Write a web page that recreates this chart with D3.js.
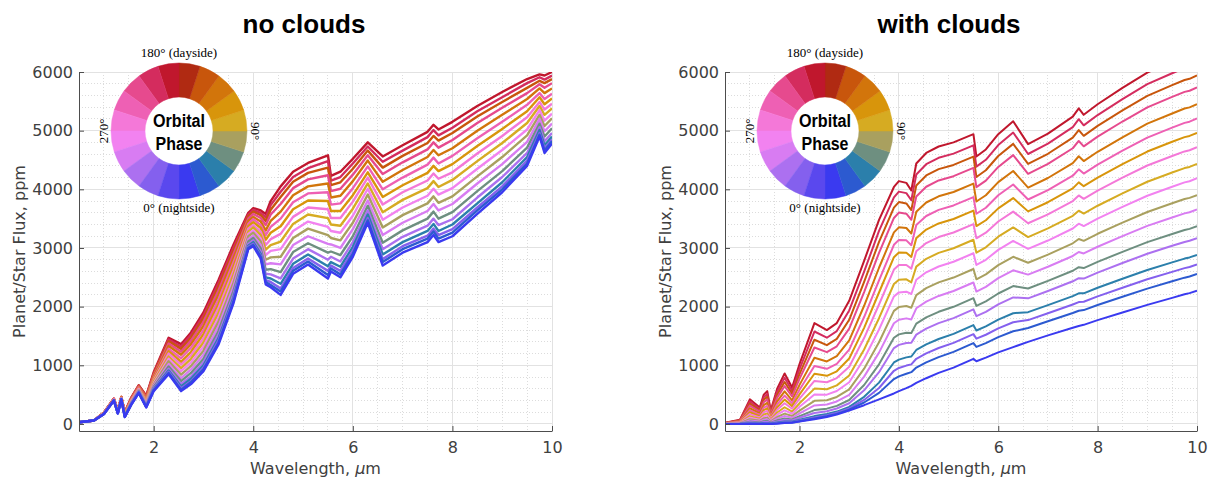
<!DOCTYPE html>
<html>
<head>
<meta charset="utf-8">
<title>Phase curves</title>
<style>
  body { margin: 0; background: #fff; }
  .axis text { fill: #404040; }
  .axis path, .axis line { stroke: #4d4d4d; }
</style>
</head>
<body>
<svg id="fig" width="1213" height="478"></svg>
<script src="https://d3js.org/d3.v7.min.js"></script>
<script>
"use strict";

// wavelength grid, micron
var wavelength = [0.5, 0.8, 1.0, 1.2, 1.28, 1.35, 1.42, 1.55, 1.7, 1.85,
  2.0, 2.3, 2.55, 2.75, 3.0, 3.3, 3.6, 3.9, 4.0, 4.15,
  4.25, 4.35, 4.55, 4.8, 5.1, 5.5, 5.56, 5.75, 6.0, 6.3,
  6.6, 7.0, 7.5, 7.62, 7.72, 8.0, 8.5, 9.0, 9.5, 9.75, 9.85, 10.0];

// orbital phase of each curve (deg), same column order as the flux rows
var phases = [0, 20, 340, 40, 320, 60, 300, 80, 280, 100, 260, 120, 240, 140, 220, 160, 200, 180];

// colour wheel, 20 segments of 18 deg starting at 0 (nightside)
var wheelColors = ["#3a3af0", "#2c5ad0", "#2b7fab", "#6e8f80", "#a9a05f",
  "#d6ab22", "#d8950b", "#d2750b", "#c8560c", "#b02a12",
  "#c0172d", "#d42c5e", "#e64a8e", "#ee60b4", "#f478d8",
  "#f282f0", "#d87cf2", "#ac70f0", "#8460ee", "#5a48ee"];

var xTicks = [2, 4, 6, 8, 10];
var yTicks = [0, 1000, 2000, 3000, 4000, 5000, 6000];

// planet/star flux (ppm), one row per wavelength, one column per phase
var noClouds = [
  [30,30,30,30,30,30,30,30,30,30,30,30,30,30,30,30,30,30],
  [60,60,60,60,60,60,60,60,60,60,60,60,60,60,60,60,60,60],
  [170,170,170,170,170,170,180,180,180,180,180,180,180,190,190,190,190,190],
  [400,400,400,400,400,410,410,410,410,410,420,420,420,420,430,430,430,430],
  [180,180,180,190,190,190,190,200,200,200,210,210,220,220,220,230,230,230],
  [420,420,420,420,430,430,430,430,440,440,440,450,450,450,450,460,460,460],
  [120,120,120,130,130,140,140,150,150,160,160,170,180,180,190,190,200,200],
  [330,330,340,340,350,360,360,370,380,390,400,410,410,420,430,440,440,450],
  [530,530,540,540,550,560,570,580,590,590,600,610,620,630,640,650,650,660],
  [280,290,290,300,310,320,340,350,360,380,390,410,420,430,450,460,470,480],
  [560,570,580,590,610,630,650,670,690,720,740,760,780,810,830,850,860,880],
  [850,870,890,910,940,980,1020,1070,1110,1150,1200,1240,1280,1330,1370,1410,1440,1470],
  [560,580,610,640,680,730,780,840,900,950,1010,1060,1120,1180,1230,1280,1320,1360],
  [680,710,730,770,810,870,930,990,1050,1110,1170,1230,1300,1360,1420,1470,1520,1560],
  [900,930,960,1000,1050,1110,1180,1250,1320,1390,1460,1530,1600,1670,1740,1800,1850,1900],
  [1350,1380,1420,1460,1520,1580,1660,1740,1810,1890,1970,2040,2120,2200,2270,2340,2400,2450],
  [2050,2080,2110,2150,2200,2260,2330,2400,2470,2540,2610,2680,2750,2820,2890,2950,3000,3050],
  [2980,3000,3020,3040,3070,3110,3150,3200,3240,3280,3330,3370,3410,3460,3500,3540,3570,3600],
  [3030,3050,3070,3100,3130,3170,3210,3260,3300,3350,3390,3440,3490,3530,3580,3620,3650,3680],
  [2820,2850,2870,2900,2940,2990,3050,3110,3160,3220,3280,3340,3390,3450,3510,3560,3600,3640],
  [2380,2420,2450,2500,2560,2630,2720,2800,2880,2970,3050,3140,3220,3300,3390,3460,3520,3580],
  [2330,2370,2420,2480,2550,2640,2740,2840,2950,3050,3150,3260,3360,3460,3570,3650,3730,3800],
  [2200,2260,2310,2390,2480,2590,2720,2850,2980,3110,3240,3370,3500,3620,3750,3870,3960,4050],
  [2560,2610,2660,2730,2820,2930,3050,3170,3290,3410,3530,3660,3780,3900,4020,4130,4210,4300],
  [2720,2770,2820,2890,2980,3080,3200,3330,3450,3570,3690,3810,3930,4050,4170,4280,4360,4450],
  [2480,2540,2610,2690,2800,2920,3070,3220,3360,3510,3660,3800,3950,4100,4240,4370,4480,4580],
  [2600,2650,2700,2760,2850,2940,3060,3170,3290,3400,3510,3630,3740,3860,3970,4070,4150,4230],
  [2500,2550,2610,2680,2770,2880,3000,3130,3260,3380,3510,3630,3760,3890,4010,4120,4210,4300],
  [2850,2900,2950,3020,3100,3200,3320,3430,3550,3670,3790,3900,4020,4140,4250,4350,4440,4520],
  [3430,3470,3510,3570,3640,3720,3810,3910,4010,4100,4200,4290,4390,4490,4580,4660,4730,4800],
  [2700,2760,2810,2890,2980,3090,3220,3350,3480,3610,3740,3870,4000,4130,4260,4370,4470,4560],
  [2920,2980,3030,3100,3190,3300,3430,3560,3690,3820,3950,4070,4200,4330,4460,4570,4660,4750],
  [3100,3160,3210,3290,3380,3500,3630,3760,3890,4020,4150,4280,4420,4550,4680,4790,4890,4980],
  [3220,3280,3330,3410,3500,3620,3750,3880,4010,4140,4270,4400,4540,4670,4800,4910,5010,5100],
  [3100,3160,3220,3290,3390,3500,3640,3770,3910,4040,4180,4310,4440,4580,4710,4830,4920,5020],
  [3200,3260,3320,3400,3490,3610,3750,3880,4020,4160,4290,4430,4570,4700,4840,4960,5050,5150],
  [3580,3640,3690,3760,3860,3970,4100,4220,4350,4480,4610,4740,4870,5000,5130,5240,5330,5420],
  [3950,4000,4050,4120,4210,4310,4430,4550,4670,4790,4910,5030,5150,5270,5390,5490,5570,5660],
  [4400,4440,4490,4550,4620,4710,4810,4920,5020,5130,5230,5330,5440,5540,5640,5730,5810,5880],
  [4900,4930,4960,5010,5060,5120,5200,5270,5350,5420,5490,5570,5640,5720,5790,5850,5910,5960],
  [4620,4660,4700,4750,4820,4900,4990,5080,5170,5270,5360,5450,5540,5640,5730,5810,5870,5940],
  [4780,4820,4850,4900,4960,5040,5120,5210,5290,5380,5460,5550,5630,5720,5810,5880,5940,6000]
];

var withClouds = [
  [0,0,0,1,1,2,3,4,5,6,8,9,11,13,15,17,18,20],
  [0,1,1,2,5,7,10,13,18,22,28,33,39,45,52,58,64,70],
  [0,3,8,14,28,40,60,81,108,134,168,199,233,268,313,347,383,420],
  [0,2,5,9,18,27,40,54,72,89,112,132,155,179,209,232,255,280],
  [0,4,10,17,33,48,72,96,129,160,200,237,277,320,373,414,456,500],
  [0,4,11,18,37,53,80,108,144,179,223,265,310,358,418,463,511,560],
  [0,2,4,8,15,22,33,44,59,73,92,109,127,147,172,190,210,230],
  [5,10,16,25,44,62,90,119,158,195,242,286,335,385,449,497,548,600],
  [15,22,31,43,71,95,136,177,232,285,352,415,483,555,645,714,786,860],
  [20,25,31,40,60,77,106,135,174,211,259,304,352,403,468,516,567,620],
  [40,48,59,72,105,133,180,228,292,353,431,504,583,666,771,850,934,1020],
  [80,93,111,134,188,236,315,395,501,603,734,856,989,1128,1303,1436,1576,1720],
  [120,132,148,169,218,261,332,404,500,592,711,820,940,1066,1224,1344,1470,1600],
  [160,172,190,211,263,308,383,460,561,658,782,898,1024,1157,1324,1450,1583,1720],
  [230,245,266,292,353,408,497,589,711,827,976,1115,1266,1425,1625,1776,1935,2100],
  [320,366,410,463,573,664,807,942,1112,1270,1464,1639,1823,2015,2249,2421,2598,2780],
  [420,530,613,705,882,1017,1216,1393,1610,1803,2036,2241,2449,2663,2917,3104,3290,3480],
  [520,766,907,1048,1294,1470,1717,1928,2174,2386,2632,2843,3054,3266,3512,3688,3864,4040],
  [560,811,954,1097,1348,1527,1777,1992,2243,2457,2708,2923,3138,3352,3603,3782,3961,4140],
  [610,855,995,1135,1380,1555,1800,2010,2255,2465,2710,2920,3130,3340,3585,3760,3935,4110],
  [650,883,1016,1150,1383,1549,1782,1982,2215,2415,2648,2848,3048,3247,3481,3647,3814,3980],
  [700,962,1111,1261,1523,1710,1972,2196,2458,2682,2944,3168,3393,3617,3879,4066,4253,4440],
  [780,1049,1202,1356,1625,1817,2086,2316,2585,2815,3084,3314,3545,3775,4044,4236,4428,4620],
  [870,1140,1295,1449,1719,1912,2182,2414,2684,2916,3186,3418,3649,3881,4151,4344,4537,4730],
  [960,1229,1382,1536,1805,1997,2266,2496,2765,2995,3264,3494,3725,3955,4224,4416,4608,4800],
  [1110,1378,1531,1685,1953,2144,2412,2642,2910,3140,3408,3638,3868,4097,4366,4557,4749,4940],
  [1070,1314,1454,1594,1838,2012,2257,2466,2710,2920,3164,3373,3583,3792,4037,4211,4386,4560],
  [1130,1379,1521,1663,1911,2089,2337,2550,2799,3012,3260,3473,3686,3899,4148,4325,4503,4680],
  [1220,1480,1629,1778,2038,2224,2485,2708,2968,3192,3452,3675,3898,4122,4382,4568,4754,4940],
  [1310,1580,1734,1888,2157,2350,2619,2850,3120,3351,3620,3851,4082,4313,4583,4775,4968,5160],
  [1400,1636,1771,1906,2141,2310,2546,2748,2984,3186,3422,3624,3826,4029,4265,4433,4602,4770],
  [1510,1751,1888,2026,2267,2439,2680,2886,3127,3333,3574,3780,3987,4193,4434,4606,4778,4950],
  [1640,1892,2036,2180,2432,2612,2864,3080,3332,3548,3800,4016,4232,4448,4700,4880,5060,5240],
  [1670,1930,2078,2227,2486,2672,2931,3154,3414,3636,3896,4119,4341,4564,4824,5009,5195,5380],
  [1690,1941,2084,2227,2478,2657,2907,3122,3373,3587,3838,4053,4268,4482,4733,4912,5091,5270],
  [1770,2028,2175,2322,2580,2764,3021,3242,3500,3720,3978,4199,4420,4640,4898,5082,5266,5450],
  [1900,2168,2321,2475,2743,2934,3202,3432,3700,3930,4198,4428,4658,4887,5156,5347,5539,5730],
  [2030,2307,2466,2624,2901,3099,3376,3614,3891,4129,4406,4644,4881,5119,5396,5594,5792,5990],
  [2150,2432,2593,2755,3037,3238,3520,3762,4044,4286,4568,4810,5052,5293,5576,5777,5979,6180],
  [2210,2494,2657,2819,3103,3306,3590,3834,4118,4362,4646,4890,5133,5377,5661,5864,6067,6270],
  [2230,2514,2677,2839,3123,3326,3610,3854,4138,4382,4666,4910,5153,5397,5681,5884,6087,6290],
  [2270,2556,2719,2882,3168,3372,3657,3902,4188,4432,4718,4963,5208,5452,5738,5942,6146,6350]
];

var svg = d3.select("#fig");
var plotTop = 72, plotBottom = 431;

var panels = [
  { title: "no clouds", data: noClouds, left: 79, right: 552, titleX: 304, lw: 2.4 },
  { title: "with clouds", data: withClouds, left: 725, right: 1197, titleX: 949, lw: 2 }
];

function phaseColor(p) { return wheelColors[Math.floor(p / 18)]; }

panels.forEach(function(p, n) {
  var x = d3.scaleLinear().domain([0.5, 10]).range([p.left, p.right]);
  var y = d3.scaleLinear().domain([-120, 6000]).range([plotBottom, plotTop]);
  var g = svg.append("g");

  // grid
  var minorX = d3.range(1, 10.01, 0.5).filter(function(v) { return v % 2 !== 0; });
  var minorY = d3.range(200, 6000, 200).filter(function(v) { return v % 1000 !== 0; });
  var grid = g.append("g").attr("shape-rendering", "crispEdges");
  grid.selectAll(".mx").data(minorX).enter().append("line")
    .attr("x1", x).attr("x2", x).attr("y1", plotTop).attr("y2", plotBottom)
    .attr("stroke", "#dcdcdc").attr("stroke-dasharray", "1,2");
  grid.selectAll(".my").data(minorY).enter().append("line")
    .attr("x1", p.left).attr("x2", p.right).attr("y1", y).attr("y2", y)
    .attr("stroke", "#dcdcdc").attr("stroke-dasharray", "1,2");
  grid.selectAll(".gx").data(xTicks).enter().append("line")
    .attr("x1", x).attr("x2", x).attr("y1", plotTop).attr("y2", plotBottom)
    .attr("stroke", "#e2e2e2");
  grid.selectAll(".gy").data(yTicks).enter().append("line")
    .attr("x1", p.left).attr("x2", p.right).attr("y1", y).attr("y2", y)
    .attr("stroke", "#e2e2e2");

  // spectra
  var clipId = "clip" + n;
  svg.append("clipPath").attr("id", clipId).append("rect")
    .attr("x", p.left).attr("y", plotTop)
    .attr("width", p.right - p.left).attr("height", plotBottom - plotTop);

  var line = d3.line().x(function(d) { return x(d[0]); }).y(function(d) { return y(d[1]); });
  var order = d3.range(phases.length).reverse();
  g.append("g").attr("clip-path", "url(#" + clipId + ")")
    .selectAll("path").data(order).enter().append("path")
    .attr("d", function(k) {
      return line(wavelength.map(function(w, i) { return [w, p.data[i][k]]; }));
    })
    .attr("fill", "none")
    .attr("stroke", function(k) { return phaseColor(phases[k]); })
    .attr("stroke-width", p.lw)
    .attr("stroke-linejoin", "round");

  // axes
  var ax = g.append("g").attr("class", "axis")
    .attr("transform", "translate(0," + plotBottom + ")")
    .call(d3.axisBottom(x).tickValues(xTicks).tickSizeInner(-5).tickSizeOuter(0).tickPadding(11));
  var ay = g.append("g").attr("class", "axis")
    .attr("transform", "translate(" + p.left + ",0)")
    .call(d3.axisLeft(y).tickValues(yTicks).tickFormat(d3.format("d"))
      .tickSizeInner(-5).tickSizeOuter(0).tickPadding(6));
  [ax, ay].forEach(function(a) {
    a.attr("font-family", "DejaVu Sans").attr("font-size", 16);
  });

  g.append("text")
    .attr("transform", "translate(" + (p.left - 54) + "," + ((plotTop + plotBottom) / 2) + ") rotate(-90)")
    .attr("text-anchor", "middle")
    .attr("font-family", "DejaVu Sans").attr("font-size", 16).attr("fill", "#404040")
    .text("Planet/Star Flux, ppm");

  var xl = g.append("text")
    .attr("x", (p.left + p.right) / 2).attr("y", 474)
    .attr("text-anchor", "middle")
    .attr("font-family", "DejaVu Sans").attr("font-size", 16).attr("fill", "#404040");
  xl.append("tspan").text("Wavelength, ");
  xl.append("tspan").attr("font-style", "italic").text("\u03bc");
  xl.append("tspan").text("m");

  g.append("text")
    .attr("x", p.titleX).attr("y", 33)
    .attr("text-anchor", "middle")
    .attr("font-family", "Liberation Sans, Arial, sans-serif")
    .attr("font-weight", "bold").attr("font-size", 26).attr("fill", "#000")
    .text(p.title);

  // orbital phase wheel
  var cx = p.left + 100, cy = 131;
  var wheel = g.append("g").attr("transform", "translate(" + cx + "," + cy + ")");
  var arc = d3.arc().innerRadius(34).outerRadius(68);
  wheel.append("circle").attr("r", 34).attr("fill", "#fff");
  wheel.selectAll("path").data(wheelColors).enter().append("path")
    .attr("d", function(c, k) {
      return arc({ startAngle: Math.PI - (k + 1) * Math.PI / 10, endAngle: Math.PI - k * Math.PI / 10 });
    })
    .attr("fill", function(c) { return c; })
    .attr("stroke", function(c) { return c; })
    .attr("stroke-width", 0.5);

  var serif = "Liberation Serif, DejaVu Serif, serif";
  wheel.append("text").attr("x", 0).attr("y", -74).attr("text-anchor", "middle")
    .attr("font-family", serif).attr("font-size", 13).text("180\u00b0 (dayside)");
  wheel.append("text").attr("x", 0).attr("y", 81).attr("text-anchor", "middle")
    .attr("font-family", serif).attr("font-size", 13).text("0\u00b0 (nightside)");
  wheel.append("text").attr("transform", "translate(-71,0) rotate(-90)").attr("text-anchor", "middle")
    .attr("font-family", serif).attr("font-size", 13).text("270\u00b0");
  wheel.append("text").attr("transform", "translate(72,0) rotate(90)").attr("text-anchor", "middle")
    .attr("font-family", serif).attr("font-size", 13).text("90\u00b0");

  var label = ["Orbital", "Phase"];
  var lens = [52, 47];
  wheel.selectAll(".ph").data(label).enter().append("text")
    .attr("x", 0).attr("y", function(d, i) { return i === 0 ? -4 : 19; })
    .attr("text-anchor", "middle")
    .attr("font-family", "Liberation Sans Narrow, Liberation Sans, Arial, sans-serif")
    .attr("font-weight", "bold").attr("font-size", 18)
    .attr("textLength", function(d, i) { return lens[i]; })
    .attr("lengthAdjust", "spacingAndGlyphs")
    .text(function(d) { return d; });
});
</script>
</body>
</html>
